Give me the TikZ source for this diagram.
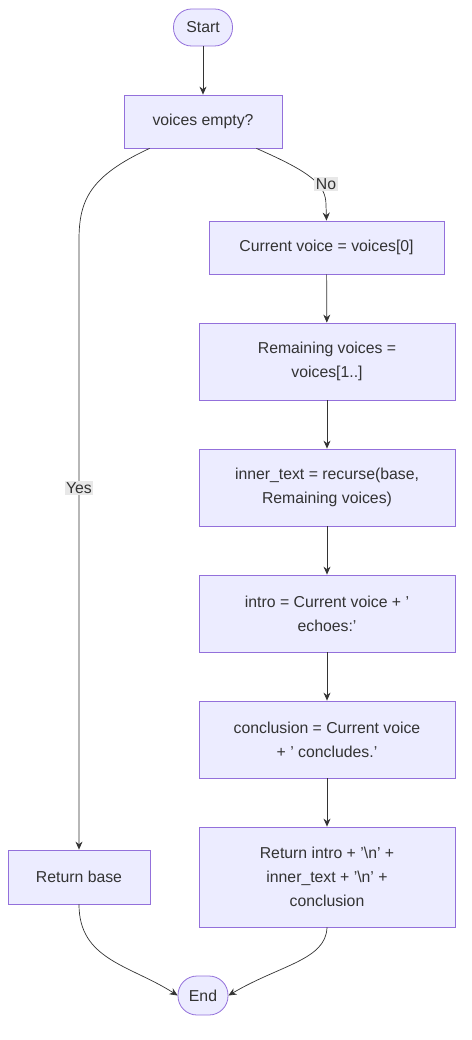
\documentclass[tikz,border=0pt]{standalone}
\usepackage{fontspec}
\setmainfont{Liberation Sans}
\usetikzlibrary{arrows.meta}
\definecolor{boxfill}{HTML}{ECECFF}
\definecolor{boxline}{HTML}{9370DB}
\definecolor{ink}{HTML}{333333}
\definecolor{lblfill}{HTML}{E8E8E8}
\newcommand{\sq}{\symbol{39}}
\begin{document}
\begin{tikzpicture}[x=1pt,y=-1pt,
	every node/.style={font=\fontsize{15.8}{24}\selectfont,text=ink},
	stepbox/.style={draw=boxline,fill=boxfill,line width=0.8pt,align=center,inner sep=0pt},
	term/.style={draw=boxline,fill=boxfill,line width=0.8pt,rounded corners=18pt,inner sep=0pt},
	flow/.style={draw=ink,line width=0.7pt,-{Stealth[length=8pt,width=7pt]}},
	lbl/.style={fill=lblfill,inner sep=1.5pt}]
	\useasboundingbox (0,0) rectangle (471,1040);
	\node [term,minimum width=59pt,minimum height=37pt] (start) at (203,27.5) {Start};
	\node [stepbox,minimum width=158pt,minimum height=53pt] (empty) at (203,121.5) {voices empty?};
	\node [stepbox,minimum width=235pt,minimum height=53pt] (cur) at (326.5,247.5) {Current voice = voices[0]};
	\node [stepbox,minimum width=256pt,minimum height=77pt] (rest) at (327,361.5) {Remaining voices =\\voices[1..]};
	\node [stepbox,minimum width=256pt,minimum height=77pt] (inner) at (327,487.5) {inner\_text = recurse(base,\\Remaining voices)};
	\node [stepbox,minimum width=256pt,minimum height=77pt] (intro) at (327,613.5) {intro = Current voice + \sq\\echoes:\sq};
	\node [stepbox,minimum width=256pt,minimum height=77pt] (concl) at (327,739.5) {conclusion = Current voice\\+ \sq{} concludes.\sq};
	\node [stepbox,minimum width=256pt,minimum height=100pt] (full) at (327,877) {Return intro + \sq\textbackslash n\sq{} +\\inner\_text + \sq\textbackslash n\sq{} +\\conclusion};
	\node [stepbox,minimum width=142pt,minimum height=54pt] (base) at (79,877) {Return base};
	\node [term,minimum width=50pt,minimum height=39pt,rounded corners=19pt] (end) at (203,995.5) {End};
	\draw [flow] (start) -- (empty);
	\draw [flow] ([xshift=26pt]empty.south west) .. controls (90,176) and (79,200) .. (79,240) -- (base.north);
	\node [lbl] (yes) at (79,488) {Yes};
	\draw [flow] ([xshift=-26pt]empty.south east) .. controls (310,172) and (326,184) .. (326,205) -- (cur.north);
	\node [lbl] (no) at (326,184) {No};
	\draw [flow] (cur) -- (rest);
	\draw [flow] (rest) -- (inner);
	\draw [flow] (inner) -- (intro);
	\draw [flow] (intro) -- (concl);
	\draw [flow] (concl) -- (full);
	\draw [flow] (base.south) .. controls (79,960) and (130,965) .. (end.west);
	\draw [flow] (full.south) .. controls (326,960) and (280,965) .. (end.east);
\end{tikzpicture}
\end{document}
